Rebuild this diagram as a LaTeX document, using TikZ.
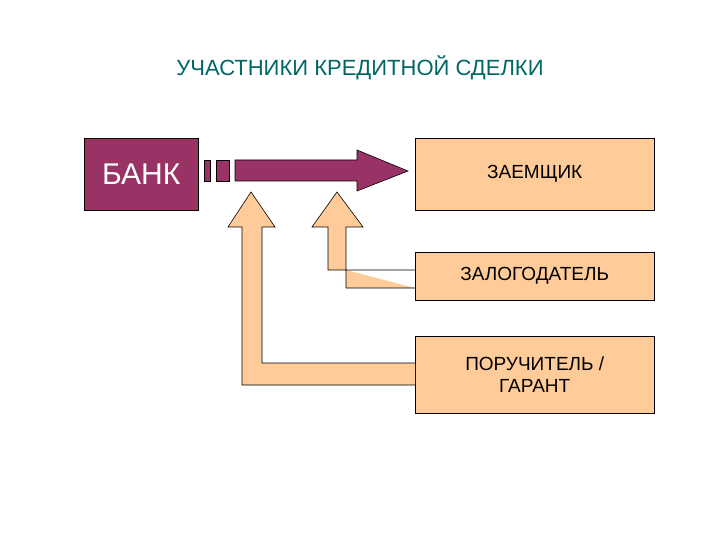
\documentclass[tikz,border=0pt]{standalone}
\usepackage{fontspec}
\setmainfont{Liberation Sans}
\definecolor{maroon}{HTML}{993366}
\definecolor{peach}{HTML}{FFCC99}
\definecolor{teal2}{HTML}{006666}
\begin{document}
\begin{tikzpicture}[x=1pt,y=-1pt,
  box/.style={draw=black,fill=peach,minimum width=239pt,anchor=north west,inner sep=0pt,align=center,font=\fontsize{19}{22}\selectfont},
  marr/.style={draw=black,fill=maroon,line width=0.6pt},
  parr/.style={draw=black,fill=peach,line width=0.6pt}]
\useasboundingbox (0,0) rectangle (720,540);
\node[text=teal2,font=\fontsize{22}{26}\selectfont] (title) at (360,68) {УЧАСТНИКИ КРЕДИТНОЙ СДЕЛКИ};
\node[draw=black,fill=maroon,text=white,minimum width=114pt,minimum height=72pt,anchor=north west,inner sep=0pt,font=\fontsize{30}{34}\selectfont] (bank) at (84,138) {БАНК};
\node[box,minimum height=72pt] (z) at (415,138) {ЗАЕМЩИК};
\node[box,minimum height=48pt] (zl) at (415,252) {ЗАЛОГОДАТЕЛЬ};
\node[box,minimum height=77pt] (p) at (415,336) {ПОРУЧИТЕЛЬ /\\ГАРАНТ};
% maroon arrow
\draw[marr] (204,160) rectangle (210,181);
\draw[marr] (216,160) rectangle (229,181);
\draw[marr] (235,160) -- (357,160) -- (357,150) -- (408,171) -- (357,191) -- (357,181) -- (235,181) -- cycle;
% peach arrows
\draw[parr] (zl.west |- 0,288) -- (346,288) -- (346,270) -- (zl.west |- 0,270) -- (328,270) -- (328,227) -- (312,227) -- (337,192) -- (363,227) -- (346,227) -- (346,270);
\draw[parr] (p.west |- 0,385) -- (242,385) -- (242,227) -- (228,227) -- (251,192) -- (275,227) -- (262,227) -- (262,363) -- (p.west |- 0,363);
\end{tikzpicture}
\end{document}
